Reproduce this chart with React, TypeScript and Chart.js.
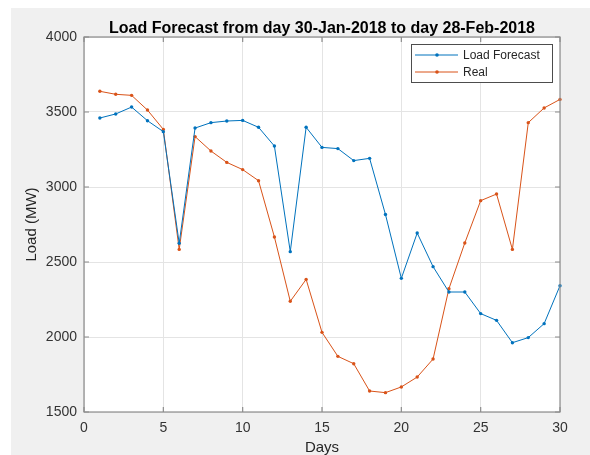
import React, { useEffect, useRef } from "react";
import { Chart, registerables } from "chart.js";

Chart.register(...registerables);

const titleText = "Load Forecast from day 30-Jan-2018 to day 28-Feb-2018";
const xLabel = "Days";
const yLabel = "Load (MW)";
const seriesLabels = ["Load Forecast", "Real"];
const seriesColors = ["#0072BD", "#D95319"];

const days = [1, 2, 3, 4, 5, 6, 7, 8, 9, 10, 11, 12, 13, 14, 15, 16, 17, 18, 19, 20, 21, 22, 23, 24, 25, 26, 27, 28, 29, 30];
const forecastLoad = [3460, 3487, 3533, 3442, 3369, 2625, 3393, 3429, 3440, 3444, 3398, 3273, 2569, 3398, 3264, 3256, 3176, 3191, 2817, 2391, 2693, 2469, 2300, 2300, 2156, 2111, 1962, 1996, 2089, 2342];
const realLoad = [3638, 3618, 3611, 3513, 3384, 2584, 3336, 3240, 3164, 3116, 3042, 2667, 2238, 2384, 2031, 1871, 1822, 1640, 1629, 1667, 1733, 1853, 2322, 2627, 2909, 2953, 2584, 3429, 3527, 3584];

const xTicks = [0, 5, 10, 15, 20, 25, 30];
const yTicks = [1500, 2000, 2500, 3000, 3500, 4000];

const FONT = "'Liberation Sans', Arial, Helvetica, sans-serif";
const AXIS_COLOR = "#8c8c8c";
const TEXT_COLOR = "#333333";

const matlabFrame = {
  id: "matlabFrame",
  beforeDraw(chart: any) {
    const { ctx, chartArea: a, width, height } = chart;
    ctx.save();
    ctx.fillStyle = "#f0f0f0";
    ctx.fillRect(0, 0, width, height);
    ctx.fillStyle = "#ffffff";
    ctx.fillRect(a.left, a.top, a.right - a.left, a.bottom - a.top);
    ctx.restore();
  },
  afterDatasetsDraw(chart: any) {
    const { ctx, chartArea: a, scales } = chart;
    const xs = scales.x;
    const ys = scales.y;
    ctx.save();
    ctx.strokeStyle = AXIS_COLOR;
    ctx.lineWidth = 1.2;
    ctx.strokeRect(a.left, a.top, a.right - a.left, a.bottom - a.top);
    ctx.beginPath();
    const tl = 5;
    xTicks.forEach((v) => {
      const px = xs.getPixelForValue(v);
      ctx.moveTo(px, a.bottom);
      ctx.lineTo(px, a.bottom - tl);
      ctx.moveTo(px, a.top);
      ctx.lineTo(px, a.top + tl);
    });
    yTicks.forEach((v) => {
      const py = ys.getPixelForValue(v);
      ctx.moveTo(a.left, py);
      ctx.lineTo(a.left + tl, py);
      ctx.moveTo(a.right, py);
      ctx.lineTo(a.right - tl, py);
    });
    ctx.stroke();

    // legend box (top-right inside axes)
    const bw = 141;
    const bh = 38;
    const bx = a.right - 8 - bw;
    const by = a.top + 7;
    ctx.fillStyle = "#ffffff";
    ctx.fillRect(bx, by, bw, bh);
    ctx.strokeStyle = "#4d4d4d";
    ctx.lineWidth = 1;
    ctx.strokeRect(bx + 0.5, by + 0.5, bw, bh);
    ctx.font = `12px ${FONT}`;
    ctx.textBaseline = "middle";
    ctx.textAlign = "left";
    const rows = [by + 11, by + 28];
    chart.data.datasets.forEach((ds: any, i: number) => {
      const ry = rows[i];
      ctx.strokeStyle = ds.borderColor;
      ctx.lineWidth = 1;
      ctx.beginPath();
      ctx.moveTo(bx + 4, ry);
      ctx.lineTo(bx + 47, ry);
      ctx.stroke();
      ctx.fillStyle = ds.borderColor;
      ctx.beginPath();
      ctx.arc(bx + 26, ry, 1.8, 0, Math.PI * 2);
      ctx.fill();
      ctx.fillStyle = "#262626";
      ctx.fillText(ds.label, bx + 52, ry + 0.5);
    });
    ctx.restore();
  },
};

export default function App() {
  const ref = useRef<HTMLCanvasElement | null>(null);

  useEffect(() => {
    if (!ref.current) return;
    const chart = new Chart(ref.current, {
      type: "line",
      data: {
        datasets: [
          {
            label: seriesLabels[0],
            data: days.map((d, i) => ({ x: d, y: forecastLoad[i] })),
            borderColor: seriesColors[0],
            backgroundColor: seriesColors[0],
            pointBackgroundColor: seriesColors[0],
            borderWidth: 1,
            pointRadius: 1.7,
            pointBorderWidth: 0,
            tension: 0,
            clip: false,
          },
          {
            label: seriesLabels[1],
            data: days.map((d, i) => ({ x: d, y: realLoad[i] })),
            borderColor: seriesColors[1],
            backgroundColor: seriesColors[1],
            pointBackgroundColor: seriesColors[1],
            borderWidth: 1,
            pointRadius: 1.7,
            pointBorderWidth: 0,
            tension: 0,
            clip: false,
          },
        ],
      },
      options: {
        animation: false,
        responsive: false,
        devicePixelRatio: 1,
        layout: { padding: { top: 0, left: 0, right: 30, bottom: 0 } },
        plugins: {
          legend: { display: false },
          tooltip: { enabled: false },
          title: {
            display: true,
            text: titleText,
            fullSize: false,
            color: "#000000",
            font: { family: FONT, size: 16, weight: "bold", lineHeight: 1.2 },
            padding: { top: 10.6, bottom: -0.8 },
          },
        },
        scales: {
          x: {
            type: "linear",
            min: 0,
            max: 30,
            afterBuildTicks: (s: any) => {
              s.ticks = xTicks.map((v) => ({ value: v }));
            },
            afterFit: (s: any) => {
              s.height = 43;
            },
            grid: { color: "#e4e4e4", lineWidth: 1, drawTicks: false },
            border: { display: false },
            ticks: {
              color: TEXT_COLOR,
              font: { family: FONT, size: 14 },
              padding: 8,
              maxRotation: 0,
              callback: (v: any) => String(v),
            },
            title: {
              display: true,
              text: xLabel,
              color: "#262626",
              font: { family: FONT, size: 15, lineHeight: 1 },
              padding: { top: 0, bottom: 0 },
            },
          },
          y: {
            type: "linear",
            min: 1500,
            max: 4000,
            afterBuildTicks: (s: any) => {
              s.ticks = yTicks.map((v) => ({ value: v }));
            },
            afterFit: (s: any) => {
              s.width = 73;
            },
            grid: { color: "#e4e4e4", lineWidth: 1, drawTicks: false },
            border: { display: false },
            ticks: {
              color: TEXT_COLOR,
              font: { family: FONT, size: 14 },
              padding: 7,
              callback: (v: any) => String(v),
            },
            title: {
              display: true,
              text: yLabel,
              color: "#262626",
              font: { family: FONT, size: 15, lineHeight: 1.2 },
              padding: { top: 12, bottom: 0 },
            },
          },
        },
      },
      plugins: [matlabFrame],
    });
    return () => chart.destroy();
  }, []);

  return (
    <div style={{ position: "absolute", left: 11, top: 8, width: 579, height: 447 }}>
      <canvas ref={ref} width={579} height={447} style={{ display: "block" }} />
    </div>
  );
}
